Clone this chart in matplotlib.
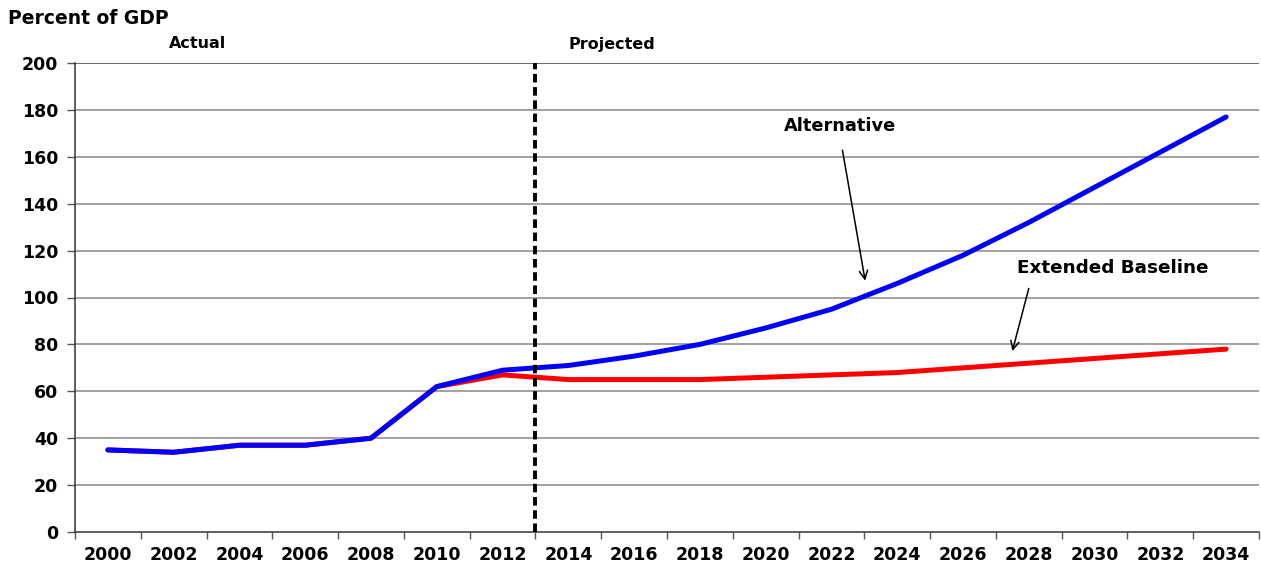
import matplotlib
matplotlib.use("Agg")
import matplotlib.pyplot as plt
import numpy as np

years = ["2000", "2002", "2004", "2006", "2008", "2010", "2012", "2014", "2016",
         "2018", "2020", "2022", "2024", "2026", "2028", "2030", "2032", "2034"]
alternative = [35, 34, 37, 37, 40, 62, 69, 71, 75, 80, 87, 95, 106, 118, 132, 147, 162, 177]
extended_baseline = [35, 34, 37, 37, 40, 62, 67, 65, 65, 65, 66, 67, 68, 70, 72, 74, 76, 78]
y_ticks = [0, 20, 40, 60, 80, 100, 120, 140, 160, 180, 200]

plt.rcParams['font.family'] = ['DejaVu Sans']
plt.rcParams['font.weight'] = 'bold'

fig = plt.figure(figsize=(12.61, 5.65), dpi=100)
ax = fig.add_axes([75/1261, 1-532/565, (1259-75)/1261, (532-63)/565])

x = np.arange(len(years))
ax.plot(x, extended_baseline, color='#ff0000', lw=3.6, solid_capstyle='round', zorder=3)
ax.plot(x, alternative, color='#0000ff', lw=3.6, solid_capstyle='round', zorder=4)

ax.set_xlim(-0.5, len(years) - 0.5)
ax.set_ylim(0, 200)
ax.set_yticks(y_ticks)
ax.set_yticklabels([str(v) for v in y_ticks], fontsize=12.5, fontweight='bold')
ax.set_xticks(x)
ax.set_xticklabels(years, fontsize=12.5, fontweight='bold')
ax.set_xticks(np.arange(len(years) + 1) - 0.5, minor=True)
ax.tick_params(axis='x', which='major', length=0, pad=10)
ax.tick_params(axis='x', which='minor', length=5, width=1, color='#555555', direction='out')
ax.tick_params(axis='y', length=6, width=1, color='#555555', pad=6)

for v in y_ticks[1:]:
    ax.axhline(v, color='#888888' if v != 200 else '#444444', lw=1.1, zorder=1)
ax.spines['top'].set_visible(False)
ax.spines['right'].set_visible(False)
ax.spines['left'].set_color('#333333')
ax.spines['bottom'].set_color('#333333')
ax.spines['left'].set_linewidth(1.1)
ax.spines['bottom'].set_linewidth(1.1)

# divider between actual and projected
ax.axvline(6.5, color='black', lw=2.8, ls=(0, (2.2, 1.2)), zorder=5)

fig.text(8/1261, 1-18/565, "Percent of GDP", fontsize=13.5, fontweight='bold', va='center', ha='left')
fig.text(198/1261, 1-44/565, "Actual", fontsize=11.5, fontweight='bold', va='center', ha='center')
fig.text(612/1261, 1-44/565, "Projected", fontsize=11.5, fontweight='bold', va='center', ha='center')

ax.annotate("", xy=(11.52, 106), xytext=(11.16, 164),
            arrowprops=dict(arrowstyle='->', color='black', lw=1.1, mutation_scale=15))
ax.text(11.13, 173, "Alternative", fontsize=12.8, fontweight='bold', ha='center', va='center')
ax.annotate("", xy=(13.74, 76), xytext=(14.01, 105),
            arrowprops=dict(arrowstyle='->', color='black', lw=1.1, mutation_scale=15))
ax.text(15.27, 112.5, "Extended Baseline", fontsize=13.2, fontweight='bold', ha='center', va='center')

fig.savefig("out.png", dpi=100)
